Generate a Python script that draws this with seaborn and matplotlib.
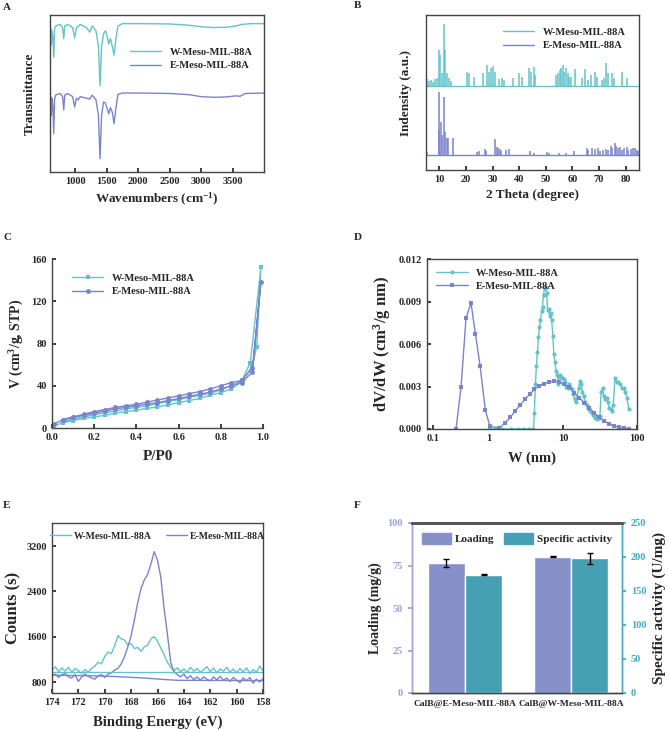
import numpy as np
import pandas as pd
import matplotlib
matplotlib.use('Agg')
import matplotlib.pyplot as plt
from matplotlib.patches import Patch
import seaborn as sns

# ---------------- datos ----------------
W_COL = '#62c3cc'
E_COL = '#7a84cc'

# A: FTIR (cm-1, transmitancia relativa)
ftir_w_x = [600, 610, 620, 630, 645, 660, 672, 690, 760, 800, 818, 835, 880, 960, 992, 1020,
            1080, 1180, 1231, 1270, 1330, 1370, 1395, 1420, 1450, 1480, 1510, 1533, 1560, 1590,
            1617, 1645, 1680, 1750, 2000, 2500, 2800, 3000, 3200, 3400, 3550, 3650, 3800, 4000]
ftir_w_y = [88, 92, 81, 90, 86, 73, 91, 93, 94, 92, 85, 93, 94, 92, 85.4, 92,
            94, 92, 89, 93, 90, 80, 55, 80, 88, 90, 86, 81.5, 85, 80,
            74.5, 84, 93, 94.5, 94.5, 94.3, 93.5, 92.5, 92, 92.2, 93, 94, 94.5, 94.5]
ftir_e_x = [600, 610, 620, 630, 645, 660, 672, 690, 760, 800, 818, 835, 880, 960, 992, 1020,
            1050, 1080, 1180, 1231, 1270, 1330, 1370, 1395, 1420, 1450, 1480, 1510, 1533, 1560,
            1590, 1617, 1645, 1680, 1750, 2000, 2500, 2800, 3000, 3200, 3400, 3550, 3620, 3700, 4000]
ftir_e_y = [44, 48, 36, 47, 42, 24.4, 46, 49, 50, 48, 39.5, 49, 50, 48, 41.4, 47,
            46, 48, 47, 46.5, 49, 46, 36, 8.5, 36, 44.6, 44, 40, 37, 41,
            38, 30.8, 40, 49.5, 50.3, 50.3, 50, 49.3, 48, 47.6, 47.8, 48.5, 48.2, 50, 50.3]

# B: XRD (posicion 2theta, altura sobre la linea base)
XRD_W_BASE = 54.2
XRD_E_BASE = 9.7
xrd_w_pos = [5.5, 6.2, 7.0, 7.8, 8.5, 9.2, 9.9, 10.4, 11.0, 11.8, 12.3, 12.8, 13.5, 14.5,
             20.3, 21.0, 23.0, 26.5, 27.8, 28.5, 29.5, 30.2, 31.0, 32.5, 33.5, 34.2, 37.5,
             40.0, 41.0, 43.5, 44.5, 45.5, 46.0, 53.8, 54.5, 55.2, 55.8, 56.5, 57.0, 57.6,
             58.2, 58.8, 59.5, 61.0, 63.5, 64.8, 66.0, 67.0, 68.5, 69.2, 71.0, 71.8, 72.6,
             73.2, 74.8, 75.6, 78.6, 80.6]
xrd_w_h = [4.3, 3.2, 3.9, 2.6, 4.3, 5.4, 23.2, 20.0, 8.6, 40.0, 23.2, 8.6, 5.4, 3.2,
           9.2, 8.2, 6.0, 8.2, 13.5, 9.2, 11.4, 12.9, 9.2, 4.3, 5.0, 3.9, 5.0,
           8.2, 6.0, 11.4, 9.2, 12.5, 7.1, 7.1, 8.2, 10.3, 11.4, 13.5, 9.2, 11.4,
           8.2, 6.0, 6.0, 10.8, 5.0, 10.8, 3.9, 7.1, 9.2, 6.0, 3.9, 5.4, 14.6,
           8.2, 8.2, 5.0, 9.2, 5.0]
xrd_e_pos = [5.2, 9.8, 10.0, 10.5, 11.0, 11.9, 12.3, 12.8, 13.3, 15.2, 24.0, 25.0, 27.0,
             27.5, 31.0, 31.5, 32.0, 32.8, 33.3, 35.2, 36.0, 44.0, 45.5, 50.3, 51.3, 55.0,
             57.5, 60.5, 65.5, 66.0, 67.5, 68.5, 69.5, 70.5, 71.5, 72.5, 73.5, 74.5, 75.0,
             75.8, 76.5, 77.0, 77.8, 78.5, 79.5, 80.5, 81.0, 82.0, 82.8, 83.5, 84.2, 84.8]
xrd_e_h = [1.7, 16.1, 40.4, 21.5, 12.9, 37.2, 15.0, 10.8, 10.8, 11.2, 2.0, 2.6, 3.9,
           2.6, 10.3, 5.4, 4.3, 3.9, 2.6, 3.2, 3.9, 2.6, 1.3, 2.2, 1.3, 1.3,
           1.3, 2.6, 4.7, 3.2, 4.3, 3.9, 4.3, 2.6, 3.2, 3.9, 3.0, 6.0, 4.7,
           7.5, 6.0, 4.3, 5.2, 3.4, 4.7, 5.2, 3.4, 3.9, 4.7, 4.3, 3.2, 2.6]

# C: isotermas (adsorcion + desorcion)
bet_w_p = [0.01, 0.05, 0.1, 0.15, 0.2, 0.25, 0.3, 0.35, 0.4, 0.45, 0.5, 0.55, 0.6, 0.65, 0.7,
           0.75, 0.8, 0.85, 0.9, 0.95, 0.97, 0.99,
           0.94, 0.9, 0.85, 0.8, 0.75, 0.7, 0.65, 0.6, 0.55, 0.5, 0.45, 0.4, 0.35, 0.3, 0.25,
           0.2, 0.15, 0.1, 0.05]
bet_w_v = [2, 5, 7, 9, 10.5, 12, 14, 15.5, 17, 18.5, 20, 22, 24, 26, 28,
           31, 33.5, 37, 44, 59, 77, 152,
           62, 45, 40, 36, 33, 31, 29, 27, 25, 23, 21, 19.5, 18, 16, 14.5,
           12.5, 10.5, 8.5, 6]
bet_e_p = [0.01, 0.05, 0.1, 0.15, 0.2, 0.25, 0.3, 0.35, 0.4, 0.45, 0.5, 0.55, 0.6, 0.65, 0.7,
           0.75, 0.8, 0.85, 0.9, 0.95, 0.99,
           0.95, 0.9, 0.85, 0.8, 0.75, 0.7, 0.65, 0.6, 0.55, 0.5, 0.45, 0.4, 0.35, 0.3, 0.25,
           0.2, 0.15, 0.1, 0.05]
bet_e_v = [4, 7.5, 10, 12, 14, 16, 18, 19.5, 21, 22.5, 24, 26, 28, 30, 32,
           34, 37, 40, 43, 53, 138,
           57, 45, 43, 40, 37, 34.5, 32.5, 30.5, 28.5, 26.5, 24.5, 22.5, 21, 19.5, 17.5,
           15.5, 13, 10.5, 8]

# D: distribucion de poros
psd_w_x = [1.0, 1.2, 1.5, 2.0, 2.5, 3.0, 3.5, 3.98, 4.1, 4.24, 4.37, 4.51, 4.66, 4.8, 4.96,
           5.12, 5.28, 5.45, 5.63, 5.81, 6.0, 6.19, 6.38, 6.58, 6.8, 7.0, 7.3, 7.5, 7.8, 8.0,
           8.4, 8.6, 9.0, 9.4, 9.8, 10.2, 10.7, 11.1, 11.6, 12.1, 12.6, 13.1, 13.7, 14.3, 14.9,
           15.5, 16.2, 16.9, 17.6, 18.3, 19.1, 19.9, 20.8, 21.7, 22.6, 23.5, 24.5, 25.6, 26.7,
           27.8, 29.0, 30.2, 31.5, 32.8, 34.2, 35.7, 37.2, 38.8, 40.4, 42.1, 43.9, 45.8, 47.7,
           50.5, 53.3, 56.2, 59.2, 62.4, 65.8, 69.4, 73.2, 77.1]
psd_w_y = [0, 0, 0, 0, 0, 0, 0, 0, 0.00114, 0.00317, 0.00448, 0.00543, 0.0065, 0.0072, 0.0077,
           0.0083, 0.00864, 0.00948, 0.00995, 0.0100, 0.0096, 0.0084, 0.0085, 0.0080, 0.0082,
           0.0077, 0.0066, 0.0053, 0.0047, 0.0041, 0.0038, 0.0032, 0.0038, 0.0037, 0.0036,
           0.0035, 0.0033, 0.0030, 0.0029, 0.0032, 0.0030, 0.0028, 0.0025, 0.0021, 0.0019,
           0.0022, 0.0029, 0.0034, 0.0032, 0.0026, 0.0023, 0.0019, 0.0017, 0.0015, 0.0014,
           0.0013, 0.0011, 0.0010, 0.0008, 0.0009, 0.0007, 0.0008, 0.0009, 0.0026, 0.0029,
           0.0023, 0.0021, 0.0022, 0.0019, 0.0015, 0.0014, 0.0013, 0.0017, 0.0036, 0.0033,
           0.0033, 0.0032, 0.0029, 0.0029, 0.0026, 0.0022, 0.0014]
psd_e_x = [0.358, 0.419, 0.489, 0.571, 0.653, 0.756, 0.891, 1.03, 1.38, 1.65, 1.94, 2.27, 2.65,
           3.06, 3.55, 4.10, 4.79, 5.59, 6.53, 7.63, 8.89, 10.4, 12.2, 14.2, 16.6, 19.4, 22.7,
           26.5, 30.9, 36.1, 42.2, 49.3, 57.6, 67.3, 78.6]
psd_e_y = [0, 0.0030, 0.00786, 0.00888, 0.00674, 0.00448, 0.00133, 0.00019, 0.00007, 0.00043,
           0.00083, 0.0013, 0.0017, 0.0021, 0.00245, 0.0028, 0.00305, 0.0032, 0.00333, 0.00336,
           0.00333, 0.00317, 0.00293, 0.00257, 0.00221, 0.00186, 0.00148, 0.00114, 0.00083,
           0.00057, 0.00036, 0.00021, 0.00012, 0.00005, 0]

# E: XPS S 2p
xps_be = [174.0, 173.75, 173.5, 173.25, 173.0, 172.75, 172.5, 172.25, 172.0, 171.75, 171.5,
          171.25, 171.0, 170.75, 170.5, 170.25, 170.0, 169.75, 169.5, 169.25, 169.0, 168.75,
          168.5, 168.25, 168.0, 167.75, 167.5, 167.25, 167.0, 166.75, 166.5, 166.25, 166.0,
          165.75, 165.5, 165.25, 165.0, 164.75, 164.5, 164.25, 164.0, 163.75, 163.5, 163.25,
          163.0, 162.75, 162.5, 162.25, 162.0, 161.75, 161.5, 161.25, 161.0, 160.75, 160.5,
          160.25, 160.0, 159.75, 159.5, 159.25, 159.0, 158.75, 158.5, 158.25, 158.0]
xps_w = [1010, 1070, 980, 1050, 990, 1060, 970, 1040, 1000, 950, 1020,
         970, 1040, 1080, 1150, 1120, 1250, 1330, 1300, 1440, 1620, 1560,
         1540, 1450, 1480, 1390, 1410, 1340, 1420, 1450, 1560, 1600, 1520,
         1400, 1280, 1150, 1060, 1000, 1050, 980, 1030, 970, 1060, 990,
         1040, 970, 1020, 1070, 980, 1050, 960, 1030, 990, 1060, 970,
         1030, 960, 1040, 980, 1050, 950, 1020, 970, 1080, 1000]
xps_e = [900, 940, 880, 930, 950, 890, 870, 930, 810, 890, 940,
         900, 870, 850, 910, 930, 880, 940, 960, 1010, 1040, 1120,
         1250, 1420, 1620, 1900, 2200, 2450, 2600, 2700, 2880, 3100, 2950,
         2650, 2100, 1650, 1150, 980, 930, 890, 940, 860, 910, 840,
         890, 830, 890, 850, 820, 890, 840, 900, 830, 870, 810,
         880, 830, 790, 870, 820, 880, 780, 850, 800, 860]
bg_w_be = [174, 158]
bg_w = [975, 975]
bg_e_be = [174, 171, 169, 167, 165.5, 164.5, 158]
bg_e = [920, 910, 895, 870, 845, 830, 825]

# F: carga y actividad especifica
samples = ['CalB@E-Meso-MIL-88A', 'CalB@W-Meso-MIL-88A']
loading = [76.5, 80.2]
loading_err = [2.3, 0.2]
activity = [174, 198]
activity_err = [1.2, 8]

# ---------------- estilo ----------------
sns.set_theme(style='ticks')
plt.rcParams['font.family'] = ['Liberation Serif', 'DejaVu Serif']
plt.rcParams['font.weight'] = 'bold'
plt.rcParams['axes.labelweight'] = 'bold'
plt.rcParams['mathtext.fontset'] = 'custom'
plt.rcParams['mathtext.rm'] = 'Liberation Serif:bold'
plt.rcParams['mathtext.it'] = 'Liberation Serif:bold'
plt.rcParams['mathtext.bf'] = 'Liberation Serif:bold'
plt.rcParams['axes.edgecolor'] = '#444444'
plt.rcParams['axes.linewidth'] = 1.0
plt.rcParams['xtick.direction'] = 'in'
plt.rcParams['ytick.direction'] = 'in'
plt.rcParams['xtick.major.size'] = 3
plt.rcParams['ytick.major.size'] = 3
plt.rcParams['xtick.labelsize'] = 7.5
plt.rcParams['ytick.labelsize'] = 7.5
plt.rcParams['axes.labelsize'] = 10

W, H = 669, 730
fig = plt.figure(figsize=(W / 100, H / 100), dpi=100)


def box(x0, y0, x1, y1):
    return [x0 / W, 1 - y1 / H, (x1 - x0) / W, (y1 - y0) / H]


def panel(label, x, y):
    fig.text(x / W, 1 - y / H, label, fontsize=8, fontweight='bold', va='center', ha='left')


lab = 'W-Meso-MIL-88A'
lab_e = 'E-Meso-MIL-88A'

# ---- A ----
axA = fig.add_axes(box(50, 15, 264, 172))
sns.lineplot(x=ftir_w_x, y=ftir_w_y, color=W_COL, lw=1.0, sort=False, estimator=None, ax=axA, label=lab)
sns.lineplot(x=ftir_e_x, y=ftir_e_y, color=E_COL, lw=1.0, sort=False, estimator=None, ax=axA, label=lab_e)
axA.set_xlim(600, 4000)
axA.set_ylim(0, 100)
axA.set_xticks([1000, 1500, 2000, 2500, 3000, 3500])
axA.set_yticks([])
axA.set_xlabel('Wavenumbers (cm$^{-1}$)', fontsize=9.5, labelpad=4)
axA.set_ylabel('Transmittance', fontsize=9.5, labelpad=10)
axA.legend(loc='center right', bbox_to_anchor=(0.99, 0.72), frameon=False, fontsize=7.5,
           handlelength=3, labelspacing=0.4)

# ---- B ----
axB = fig.add_axes(box(426, 15, 639, 170))
axB.axhline(XRD_W_BASE, color=W_COL, lw=1.0, label=lab)
axB.axhline(XRD_E_BASE, color=E_COL, lw=1.0, label=lab_e)
axB.vlines(xrd_w_pos, XRD_W_BASE, np.add(xrd_w_h, XRD_W_BASE), color=W_COL, lw=1.1)
axB.vlines(xrd_e_pos, XRD_E_BASE, np.add(xrd_e_h, XRD_E_BASE), color=E_COL, lw=1.1)
axB.set_xlim(5, 85)
axB.set_ylim(0, 100)
axB.set_xticks(range(10, 90, 10))
axB.set_yticks([])
axB.set_xlabel('2 Theta (degree)', fontsize=9.5, labelpad=4)
axB.set_ylabel('Indensity (a.u.)', fontsize=9.5, labelpad=10)
axB.legend(loc='upper right', bbox_to_anchor=(0.98, 0.98), frameon=False, fontsize=7.5,
           handlelength=3, labelspacing=0.4)

# ---- C ----
axC = fig.add_axes(box(52, 259, 263, 428))
sns.lineplot(x=bet_w_p, y=bet_w_v, color=W_COL, lw=1.0, marker='s', markersize=3.5, markeredgewidth=0,
             sort=False, estimator=None, ax=axC, label=lab)
sns.lineplot(x=bet_e_p, y=bet_e_v, color=E_COL, lw=1.0, marker='o', markersize=3.5, markeredgewidth=0,
             sort=False, estimator=None, ax=axC, label=lab_e)
axC.set_xlim(0, 1.0)
axC.set_ylim(0, 160)
axC.set_xticks([0, 0.2, 0.4, 0.6, 0.8, 1.0])
axC.set_yticks([0, 40, 80, 120, 160])
axC.xaxis.set_major_formatter(matplotlib.ticker.FormatStrFormatter('%.1f'))
sns.despine(ax=axC)
axC.set_xlabel('P/P0', fontsize=11, labelpad=6)
axC.set_ylabel('V (cm$^3$/g, STP)', fontsize=10, labelpad=4)
axC.legend(loc='upper left', bbox_to_anchor=(0.05, 0.97), frameon=False, fontsize=7.5,
           handlelength=3, labelspacing=0.4)

# ---- D ----
axD = fig.add_axes(box(427, 259, 637, 429))
sns.lineplot(x=psd_w_x, y=psd_w_y, color=W_COL, lw=1.0, marker='o', markersize=3, markeredgewidth=0,
             sort=False, estimator=None, ax=axD, label=lab)
sns.lineplot(x=psd_e_x, y=psd_e_y, color=E_COL, lw=1.0, marker='s', markersize=2.8, markeredgewidth=0,
             sort=False, estimator=None, ax=axD, label=lab_e)
axD.set_xscale('log')
axD.set_xlim(0.145, 100)
axD.set_xticks([0.175, 1, 10, 100])
axD.set_xticklabels(['0.1', '1', '10', '100'])
axD.minorticks_off()
axD.set_ylim(0, 0.012)
axD.set_yticks([0, 0.003, 0.006, 0.009, 0.012])
axD.yaxis.set_major_formatter(matplotlib.ticker.FormatStrFormatter('%.3f'))
axD.set_xlabel('W (nm)', fontsize=10.5, labelpad=6)
axD.set_ylabel('dV/dW (cm$^3$/g nm)', fontsize=12, labelpad=4)
axD.legend(loc='upper left', bbox_to_anchor=(0.0, 1.0), frameon=False, fontsize=7.5,
           handlelength=3, labelspacing=0.4)

# ---- E ----
axE = fig.add_axes(box(52, 523, 263, 693))
sns.lineplot(x=xps_be, y=xps_w, color=W_COL, lw=1.0, sort=False, estimator=None, ax=axE, label=lab)
sns.lineplot(x=xps_be, y=xps_e, color=E_COL, lw=1.0, sort=False, estimator=None, ax=axE, label=lab_e)
sns.lineplot(x=bg_w_be, y=bg_w, color=W_COL, lw=1.0, sort=False, estimator=None, ax=axE)
sns.lineplot(x=bg_e_be, y=bg_e, color=E_COL, lw=1.0, sort=False, estimator=None, ax=axE)
axE.set_xlim(174, 158)
axE.set_ylim(606, 3606)
axE.set_xticks(range(174, 157, -2))
axE.set_yticks([800, 1600, 2400, 3200])
axE.set_xlabel('Binding Energy (eV)', fontsize=10.5, labelpad=6)
axE.set_ylabel('Counts (s)', fontsize=12, labelpad=4)
axE.legend(loc='upper center', bbox_to_anchor=(0.5, 0.99), ncol=2, frameon=False, fontsize=7,
           handlelength=2.2, columnspacing=1.4, handletextpad=0.3, borderpad=0.2)

# ---- F ----
LOAD_COL = '#8591c8'
ACT_COL = '#45a0b4'
LEFT_COL = '#9aa3d8'
RIGHT_COL = '#44aabf'
axF = fig.add_axes(box(412, 523, 622, 693))
axF2 = axF.twinx()
pos = np.arange(len(samples))
bw = 0.35
axF.bar(pos - bw / 2, loading, width=bw, color=LOAD_COL, yerr=loading_err, capsize=2.5,
        error_kw=dict(lw=1, capthick=1, ecolor='black'))
axF2.bar(pos + bw / 2, activity, width=bw, color=ACT_COL, yerr=activity_err, capsize=2.5,
         error_kw=dict(lw=1, capthick=1, ecolor='black'))
axF.set_xlim(-0.5, 1.48)
axF.set_ylim(0, 100)
axF.set_yticks([0, 25, 50, 75, 100])
axF2.set_ylim(0, 250)
axF2.set_yticks([0, 50, 100, 150, 200, 250])
axF.set_xticks(pos)
axF.set_xticklabels(samples, fontsize=6.8)
axF.tick_params(axis='x', length=0, pad=5)
axF.tick_params(axis='y', colors=LEFT_COL, direction='out', length=3)
axF2.tick_params(axis='y', colors=RIGHT_COL, direction='out', length=3)
for a in (axF, axF2):
    a.spines['left'].set_color(LEFT_COL)
    a.spines['right'].set_color(RIGHT_COL)
    a.spines['top'].set_color('#555555')
    a.spines['top'].set_linewidth(2)
    a.spines['bottom'].set_color('#444444')
axF.set_ylabel('Loading (mg/g)', fontsize=10, labelpad=4)
axF2.set_ylabel('Specific activity (U/mg)', fontsize=11, labelpad=4)
axF.legend(handles=[Patch(color=LOAD_COL, label='Loading'), Patch(color=ACT_COL, label='Specific activity')],
           loc='upper center', bbox_to_anchor=(0.5, 1.0), ncol=2, frameon=False, fontsize=8,
           handlelength=2.6, handleheight=1.2, columnspacing=0.8, handletextpad=0.4)

# letras de paneles
panel('A', 3, 7)
panel('B', 354, 6)
panel('C', 3, 238)
panel('D', 354, 238)
panel('E', 3, 505)
panel('F', 354, 505)

fig.savefig('out.png', dpi=100)
